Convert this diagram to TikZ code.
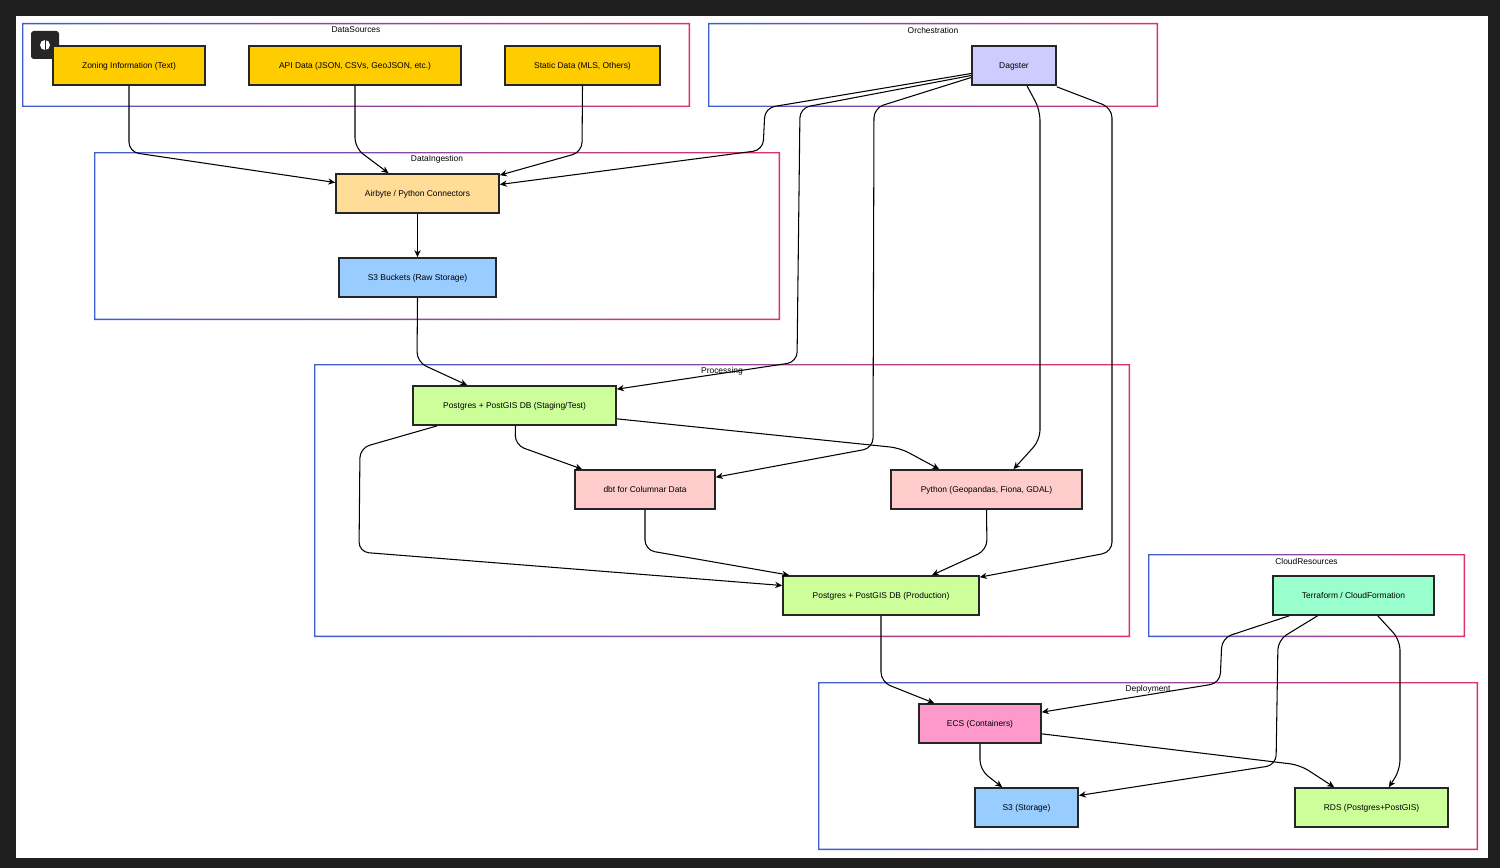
\documentclass[tikz,border=0pt]{standalone}
\usepackage{fontspec}
\setmainfont{Liberation Sans}
\usetikzlibrary{arrows.meta}
\definecolor{gold}{HTML}{FFCC00}
\definecolor{lav}{HTML}{CCCCFF}
\definecolor{peach}{HTML}{FFDD99}
\definecolor{sky}{HTML}{99CCFF}
\definecolor{lime}{HTML}{CCFF99}
\definecolor{rose}{HTML}{FFCCCC}
\definecolor{mint}{HTML}{99FFCC}
\definecolor{pinkc}{HTML}{FF99CC}
\definecolor{cblue}{HTML}{3F5FD0}
\definecolor{cred}{HTML}{E0306A}
\begin{document}
\begin{tikzpicture}[x=0.05cm,y=-0.05cm,
 box/.style={draw=black!85,line width=2.4pt,font=\fontsize{12}{14}\selectfont,minimum height=1.95cm,inner sep=0pt,text depth=-2pt},
 edge/.style={draw=black,line width=1.5pt,rounded corners=14pt,-{Stealth[length=10pt,width=9pt]}},
 ttl/.style={font=\fontsize{12}{14}\selectfont,inner sep=1pt}]
\useasboundingbox (0,0) rectangle (1500,868);
\fill[black!88] (0,0) rectangle (1500,868);
\fill[white] (16,16) rectangle (1488,858);
\newcommand{\clus}[5]{%
 \shade[left color=cblue,right color=cred,even odd rule] (#1,#2) rectangle (#3,#4) ([xshift=0.07cm,yshift=-0.07cm]#1,#2) rectangle ([xshift=-0.07cm,yshift=0.07cm]#3,#4);
 \node[ttl] at ({(#1+#3)/2},{#2+7}) {#5};}
\clus{22}{23}{690}{107}{DataSources}
\clus{708}{23}{1158}{107}{Orchestration}
\clus{94}{152}{780}{320}{DataIngestion}
\clus{314}{364}{1130}{637}{Processing}
\clus{1148}{554}{1465}{637}{CloudResources}
\clus{818}{682}{1478}{850}{Deployment}
% icon
\fill[black!85,rounded corners=4pt] (31,31) rectangle (59,59);
\node[circle,fill=white,minimum size=0.5cm,inner sep=0pt] (ico) at (45,45) {};
\draw[black!85,line width=1pt] (45,40) -- (45,50);
% nodes
\node[box,fill=gold,minimum width=7.6cm] (zon) at (129,65.5) {Zoning Information (Text)};
\node[box,fill=gold,minimum width=10.6cm] (api) at (355,65.5) {API Data (JSON, CSVs, GeoJSON, etc.)};
\node[box,fill=gold,minimum width=7.75cm] (sta) at (582.5,65.5) {Static Data (MLS, Others)};
\node[box,fill=lav,minimum width=4.2cm] (dag) at (1014,65.5) {Dagster};
\node[box,fill=peach,minimum width=8.15cm] (air) at (417.5,193.5) {Airbyte / Python Connectors};
\node[box,fill=sky,minimum width=7.85cm] (s3b) at (417.5,277.5) {S3 Buckets (Raw Storage)};
\node[box,fill=lime,minimum width=10.15cm] (stg) at (514.5,405.5) {Postgres + PostGIS DB (Staging/Test)};
\node[box,fill=rose,minimum width=7cm] (dbt) at (645,489.5) {dbt for Columnar Data};
\node[box,fill=rose,minimum width=9.55cm] (py) at (986.5,489.5) {Python (Geopandas, Fiona, GDAL)};
\node[box,fill=lime,minimum width=9.8cm] (prd) at (881,595.5) {Postgres + PostGIS DB (Production)};
\node[box,fill=mint,minimum width=8.05cm] (ter) at (1353.5,595.5) {Terraform / CloudFormation};
\node[box,fill=pinkc,minimum width=6.1cm] (ecs) at (980,723.5) {ECS (Containers)};
\node[box,fill=sky,minimum width=5.15cm] (s3s) at (1026.5,807.5) {S3 (Storage)};
\node[box,fill=lime,minimum width=7.65cm] (rds) at (1371.5,807.5) {RDS (Postgres+PostGIS)};
% edges
\draw[edge] (zon.south) -- (129,152) -- ([yshift=0.55cm]air.west);
\draw[edge] (api.south) -- (355,148) -- ([xshift=-1.45cm]air.north);
\draw[edge] (sta.south) -- (582,152) -- ([yshift=-0.1cm]air.north east);
\draw[edge] ([yshift=-0.4cm]dag.west) -- (765,108) -- (763,150) -- ([yshift=0.45cm]air.east);
\draw[edge] (air.south) -- (s3b.north);
\draw[edge] (s3b.south) -- (417,362) -- ([xshift=2.75cm]stg.north west);
\draw[edge] ([yshift=-0.5cm]dag.west) -- (800,108) -- (797,362) -- ([yshift=-0.2cm]stg.north east);
\draw[edge] ([yshift=-0.6cm]dag.west) -- (874,108) -- (873,448) -- ([yshift=-0.4cm]dbt.north east);
\draw[edge] ([xshift=0.65cm]dag.south) -- (1040,110) -- (1040,440) -- ([xshift=1.35cm]py.north);
\draw[edge] ([yshift=-0.05cm]dag.south east) -- (1112,108) -- (1112,552) -- ([yshift=-0.1cm]prd.north east);
\draw[edge] ([xshift=0.05cm]stg.south) -- (515,445) -- ([xshift=0.4cm]dbt.north west);
\draw[edge] ([yshift=0.35cm]stg.south east) -- (900,448) -- ([xshift=2.45cm]py.north west);
\draw[edge] ([xshift=1.25cm]stg.south west) -- (360,448) -- (359,552) -- ([yshift=0.5cm]prd.west);
\draw[edge] (dbt.south) -- (645,550) -- ([xshift=0.35cm]prd.north west);
\draw[edge] (py.south) -- (987,550) -- ([xshift=2.55cm]prd.north);
\draw[edge] (prd.south) -- (881,682) -- ([xshift=0.8cm]ecs.north west);
\draw[edge] ([xshift=0.85cm]ter.south west) -- (1222,638) -- (1220,683) -- ([yshift=-0.45cm]ecs.north east);
\draw[edge] ([xshift=-1.8cm]ter.south) -- (1278,640) -- (1276,765) -- ([yshift=0.6cm]s3s.east);
\draw[edge] ([xshift=-2.85cm]ter.south east) -- (1400,640) -- (1400,770) -- ([xshift=-3cm]rds.north east);
\draw[edge] (ecs.south) -- (980,770) -- ([xshift=1.4cm]s3s.north west);
\draw[edge] ([yshift=0.5cm]ecs.south east) -- (1300,765) -- ([xshift=2cm]rds.north west);
\end{tikzpicture}
\end{document}
